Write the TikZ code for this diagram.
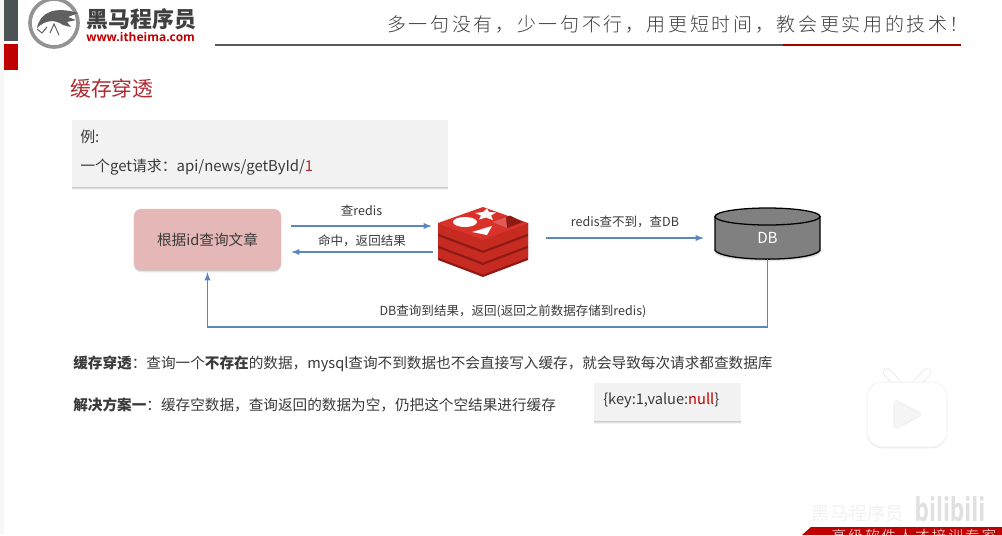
\documentclass[tikz,border=0pt]{standalone}
\usepackage{fontspec}
\usepackage{graphicx}
\usepackage{tikz}
\usetikzlibrary{calc,shadows}
\setmainfont{Noto Sans CJK SC}
\newfontfamily\latinfont{Open Sans}
\newfontfamily\mottofont[LetterSpace=14]{Noto Sans CJK SC Light}
\definecolor{flowblue}{HTML}{5B87BD}
\definecolor{titlered}{HTML}{AD2A32}
\definecolor{panelgray}{HTML}{F2F2F2}
\definecolor{textgray}{HTML}{3A3A3A}
\definecolor{brandred}{HTML}{C00000}
\definecolor{stripgray}{HTML}{4B5354}
\definecolor{articlepink}{HTML}{E5B7B7}
\definecolor{redistop}{HTML}{D8322A}
\definecolor{redisside}{HTML}{C62A21}
\definecolor{redisgap}{HTML}{8F1A14}
\tikzset{
  px/.style={x=0.025cm,y=-0.025cm},
  soft-shadow/.style={
    drop shadow={shadow xshift=0pt,shadow yshift=-1.8pt,opacity=0.10},
    drop shadow={shadow xshift=0pt,shadow yshift=-1.2pt,opacity=0.16},
    drop shadow={shadow xshift=0pt,shadow yshift=-0.6pt,opacity=0.20}},
  panel/.style={draw=none,fill=panelgray,inner sep=0pt,soft-shadow},
  flow/.style={-latex,draw=flowblue,line width=1pt},
  flow-label/.style={font=\fontsize{8.9}{10}\selectfont,text=textgray,inner sep=0pt},
  note/.style={anchor=west,font=\fontsize{10.4}{12}\selectfont,text=textgray,inner sep=0pt},
}
\newcommand{\redisslab}[1]{
  \fill[redisgap,shift={(0,#1)}] (438,223) -- (483,240) -- (528,223) -- (528,236) -- (483,253) -- (438,236) -- cycle;
  \fill[redisside,shift={(0,#1)}] (438,223) -- (483,240) -- (528,223) -- (528,233.5) -- (483,250.5) -- (438,233.5) -- cycle;
  \fill[redistop,shift={(0,#1)}] (438,223) -- (483,207) -- (528,223) -- (483,240) -- cycle;
}
\begin{document}
\begin{tikzpicture}[px]
\useasboundingbox (0,0) rectangle (1002,535);
\clip (0,0) rectangle (1002,535);
\fill[white] (0,0) rectangle (1002,535);
\fill[gray!6] (0,0) rectangle (4,535);

% header
\fill[stripgray] (4,0) rectangle (18,41);
\fill[brandred] (4,44) rectangle (18,70);
\path (54,23) node[circle,minimum size=1.2cm,inner sep=0pt,draw=gray!85,line width=2.6pt](logo) {};
\fill[gray!75!black] (37,28) .. controls (40,12) and (55,6) .. (78,13) -- (68,17) -- (76,20) -- (67,22) -- (71,27) -- (63,25) .. controls (55,19) and (45,20) .. (37,28) -- cycle;
\draw[gray!75!black,line width=0.7pt] (37,29) -- (42,33) -- (47,27) (50,33) -- (54,24) -- (59,35);
\path (86,19) node[anchor=west,inner sep=0pt,font=\fontsize{15.6}{18}\bfseries\selectfont,text=black!75](brand) {黑马程序员};
\path (86,37) node[anchor=west,inner sep=0pt,font=\latinfont\fontsize{8.5}{10}\bfseries\selectfont,text=brandred](site) {www.itheima.com};
\path (387,24) node[anchor=west,inner sep=0pt,font=\mottofont\fontsize{13.5}{16}\selectfont,text=black!75](motto) {多一句没有，少一句不行，用更短时间，教会更实用的技术！};
\draw[line width=1.5pt,black!65] (215,45) -- (783,45);
\draw[line width=1.5pt,brandred!85!black] (783,45) -- (961,45);

% example box
\path (70,89) node[anchor=west,inner sep=0pt,font=\fontsize{14.8}{17}\selectfont,text=titlered](title) {缓存穿透};
\path (72,120) node[panel,anchor=north west,minimum width=9.4cm,minimum height=1.675cm](example) {};
\path (80,137) node[note,font=\fontsize{10.6}{12}\selectfont](example-head) {例:};
\path (80,167) node[note,font=\fontsize{10.6}{12}\selectfont](example-url) {一个get请求：api/news/getById/\textcolor{titlered}{1}};

% redis logo
\redisslab{24}
\redisslab{12}
\redisslab{0}
\fill[white] (465,222) ellipse (12 and 5);
\fill[white] (487,208.5) -- (489,212) -- (496,212.5) -- (491,215.5) -- (493,220) -- (486,217.5) -- (479,219.5) -- (481,215.5) -- (475,213) -- (483,212) -- cycle;
\fill[white] (472,232) -- (492,226) -- (487,235) -- cycle;
\fill[redisgap] (492,222) -- (510,215.5) -- (523,222) -- (507,228) -- cycle;
\fill[redistop!80!white] (492,222) -- (506,217) -- (507,228) -- cycle;

% flow nodes
\path (207.5,239.5) node[rectangle,rounded corners=5pt,fill=articlepink,minimum width=3.675cm,minimum height=1.525cm,inner sep=0pt,font=\fontsize{10.4}{13}\selectfont,text=textgray,soft-shadow](article) {根据id查询文章};
\path (483,241.5) node[rectangle,minimum width=2.25cm,minimum height=1.725cm,inner sep=0pt](redis) {};
\fill[gray,soft-shadow] (767.5,250.5) ellipse (52.5 and 8.5);
\draw[black,line width=0.9pt,fill=gray] (715,216.5) -- (715,250.5) .. controls (725,262) and (810,262) .. (820,250.5) -- (820,216.5) -- cycle;
\draw[black,line width=0.9pt,fill=gray] (767.5,216.5) ellipse (52.5 and 8.5);
\path (767.5,238) node[rectangle,minimum width=2.625cm,minimum height=1.05cm,inner sep=0pt,font=\fontsize{10.8}{13}\selectfont,text=white](db) {DB};
\path (513,311) node[flow-label](return-label) {DB查询到结果，返回(返回之前数据存储到redis)};
\coordinate (return-corner) at (767.5,327);

\draw[flow] ($(article.east)+(10,-13.5)$) -- ($(redis.west)+(-6,-15.5)$) node[flow-label,midway,above=6.5pt] {查redis};
\draw[flow] ($(redis.west)+(-5,10.5)$) -- ($(article.east)+(10,12.5)$) node[flow-label,midway,above=3.5pt] {命中，返回结果};
\draw[flow] ($(redis.east)+(18,-3.5)$) -- ($(db.west)+(-11,0)$) node[flow-label,midway,above=6.5pt] {redis查不到，查DB};
\draw[flow] (db.south) -- (return-corner) -| ($(article.south)+(0,2)$);

% notes
\path (73,364) node[note](penetration-note) {\textbf{缓存穿透}：查询一个\textbf{不存在}的数据，mysql查询不到数据也不会直接写入缓存，就会导致每次请求都查数据库};
\path (73,405) node[note](solution-note) {\textbf{解决方案一}：缓存空数据，查询返回的数据为空，仍把这个空结果进行缓存};
\path (594,383) node[panel,anchor=north west,minimum width=3.675cm,minimum height=0.95cm](null-box) {};
\path (603,400) node[note](null-text) {\{key:1,value:\textcolor{brandred}{null}\}};

% watermark
\begin{scope}[shift={(907,414.5)}]
\draw[black!10,line width=6pt,line cap=round] (-20,-42) -- (-10,-32) (20,-42) -- (10,-32);
\draw[white,line width=5pt,line cap=round] (-20,-42) -- (-10,-32) (20,-42) -- (10,-32);
\fill[white,draw=black!7,rounded corners=11pt,drop shadow={shadow xshift=0pt,shadow yshift=-1pt,opacity=0.12}] (-40,-32.5) rectangle (40,32.5);
\fill[black!4,rounded corners=3pt,draw=black!8] (-13,-15.5) -- (16,0) -- (-13,15.5) -- cycle;
\end{scope}
\fill[brandred] (802,535) -- (811,527) -- (1002,527) -- (1002,535) -- cycle;
\path (914,535.5) node[inner sep=0pt,text=white,font=\mottofont\fontsize{10.4}{13}\selectfont](slogan) {高级软件人才培训专家};
\path (858,513) node[inner sep=0pt,text=black!5,font=\fontsize{13.2}{15}\selectfont](mark-brand) {黑马程序员};
\path (950,509) node[inner sep=0pt,text=black!12,font=\latinfont\fontsize{18}{20}\bfseries\selectfont](mark-bili) {\scalebox{0.9}[1.3]{bilibili}};
\end{tikzpicture}
\end{document}
